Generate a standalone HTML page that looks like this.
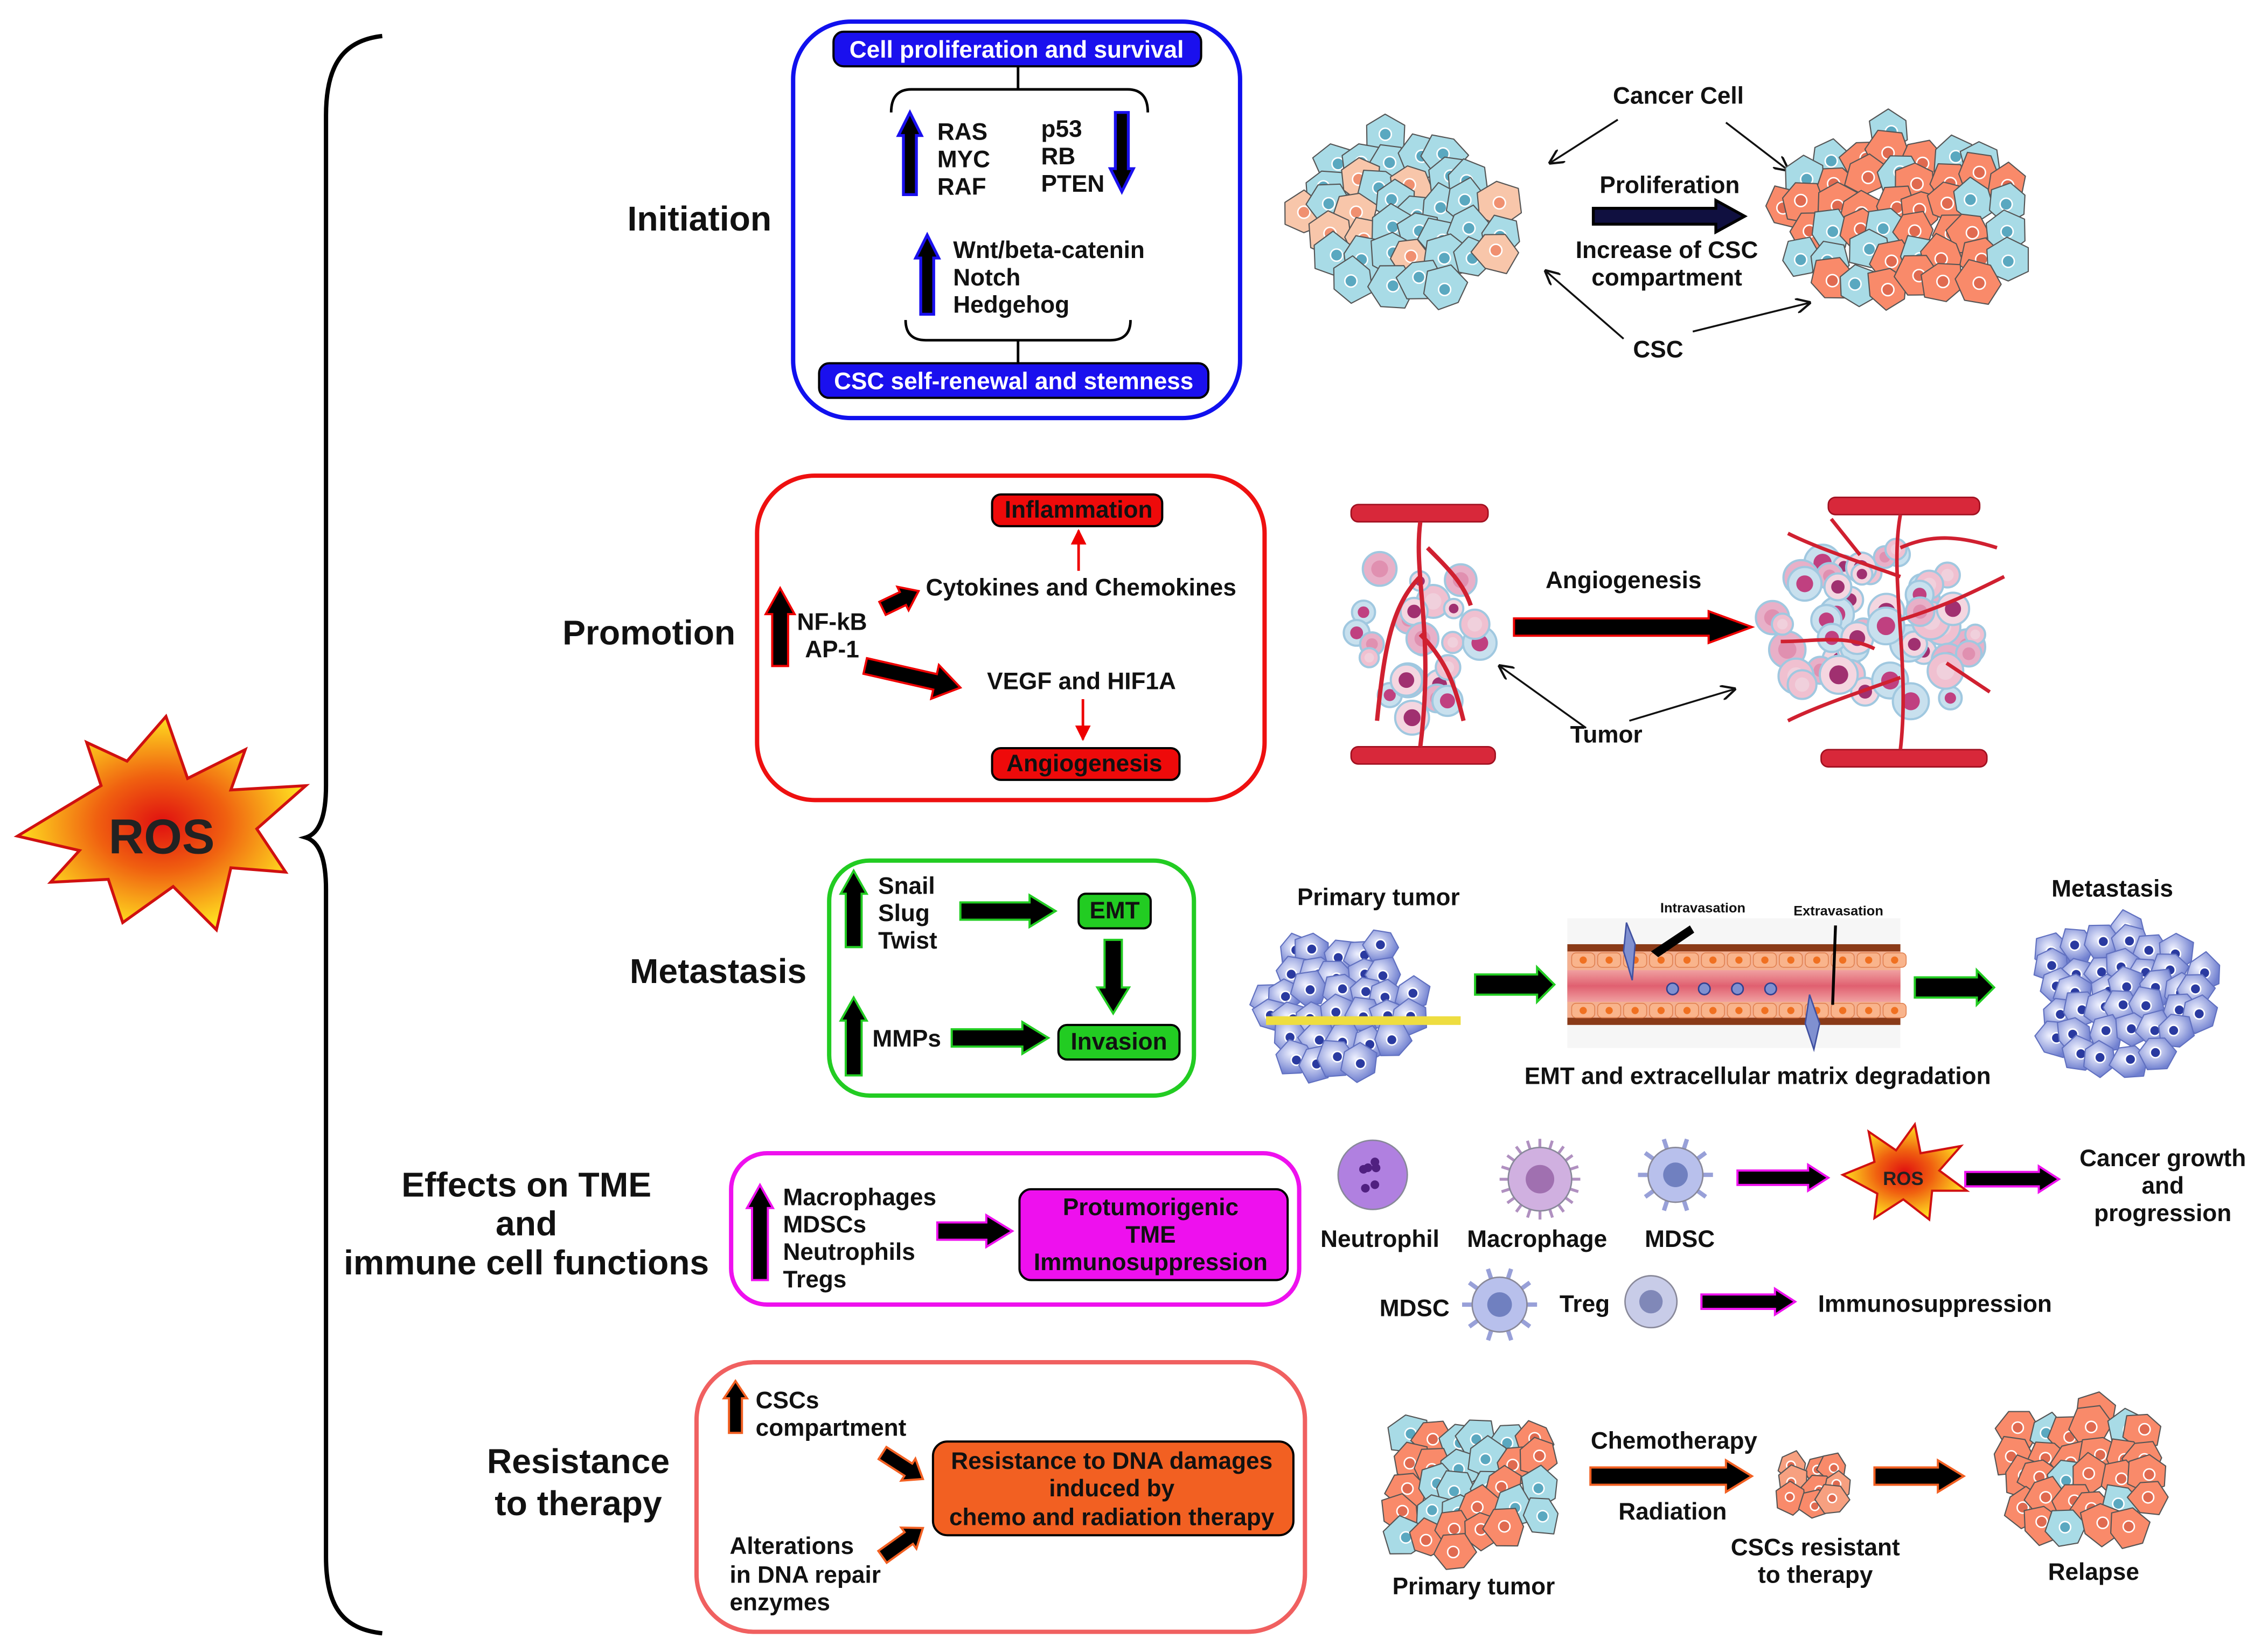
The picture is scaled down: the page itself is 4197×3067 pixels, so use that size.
<!DOCTYPE html>
<html><head><meta charset="utf-8">
<style>
html,body{margin:0;padding:0;background:#fff;}
svg{display:block;}
text{font-family:"Liberation Sans Narrow","Liberation Sans",sans-serif;font-weight:bold;fill:#111;}
.t{font-size:16.5px;}
.lab{font-size:24px;font-family:"Liberation Sans",sans-serif;}
.c{text-anchor:middle;}
.w{fill:#fff;}
</style></head>
<body>
<svg id="s" width="4197" height="3067" viewBox="0 0 1568 1146" xmlns="http://www.w3.org/2000/svg">
<defs>
<radialGradient id="rg" cx="0.5" cy="0.5" r="0.5">
<stop offset="0" stop-color="#e01010"/><stop offset="0.45" stop-color="#f06010"/><stop offset="1" stop-color="#ffe020"/>
</radialGradient>
<radialGradient id="cb" cx="0.4" cy="0.4" r="0.6"><stop offset="0" stop-color="#f0f2ff"/><stop offset="1" stop-color="#7080d0"/></radialGradient>
<linearGradient id="vg" x1="0" y1="0" x2="0" y2="1"><stop offset="0" stop-color="#f0a0a0"/><stop offset="0.5" stop-color="#e06070"/><stop offset="1" stop-color="#f0a0a0"/></linearGradient>
<marker id="mk" viewBox="0 0 10 10" refX="9" refY="5" markerWidth="8" markerHeight="8" orient="auto"><path d="M0,0 L10,5 L0,10" fill="none" stroke="#111" stroke-width="1.5"/></marker>
<marker id="mr" viewBox="0 0 10 10" refX="9" refY="5" markerWidth="6" markerHeight="6" orient="auto"><path d="M0,0 L10,5 L0,10 z" fill="#e00"/></marker>
</defs>

<path d="M265,25 C238,28 226,45 226,80 L226,545 C226,565 222,578 212,581 C222,584 226,597 226,617 L226,1080 C226,1115 238,1130 265,1133" fill="none" stroke="#000" stroke-width="3"/>

<path d="M12,580 L70,545 L60,515 L88,528 L115,497 L130,540 L170,520 L160,548 L212,545 L178,575 L198,605 L160,602 L150,645 L120,615 L85,640 L75,610 L35,612 L55,590 Z" fill="url(#rg)" stroke="#d01010" stroke-width="2"/>
<text x="112" y="592" class="c" style="font-size:34px;font-family:'Liberation Sans',sans-serif;fill:#222">ROS</text>

<text x="485" y="160" class="lab c">Initiation</text>
<text x="450" y="447" class="lab c">Promotion</text>
<text x="498" y="682" class="lab c">Metastasis</text>
<text x="365" y="830" class="lab c">Effects on TME</text>
<text x="365" y="857" class="lab c">and</text>
<text x="365" y="884" class="lab c">immune cell functions</text>
<text x="401" y="1022" class="lab c">Resistance</text>
<text x="401" y="1051" class="lab c">to therapy</text>

<rect x="550" y="15" width="310" height="275" rx="40" fill="none" stroke="#1010ee" stroke-width="3"/>
<rect x="578" y="22" width="255" height="24" rx="7" fill="#1a10ee" stroke="#000" stroke-width="1.5"/>
<text x="705" y="40" class="t c w" style="fill:#fff">Cell proliferation and survival</text>
<rect x="568" y="252" width="270" height="24" rx="7" fill="#1a10ee" stroke="#000" stroke-width="1.5"/>
<text x="703" y="270" class="t c" style="fill:#fff">CSC self-renewal and stemness</text>
<path d="M706,46 L706,62 M618,78 Q618,62 632,62 L782,62 Q796,62 796,78" fill="none" stroke="#000" stroke-width="1.8"/>
<path d="M628,222 Q628,236 642,236 L770,236 Q784,236 784,222 M706,236 L706,252" fill="none" stroke="#000" stroke-width="1.8"/>
<text x="650" y="97" class="t">RAS</text><text x="650" y="116" class="t">MYC</text><text x="650" y="135" class="t">RAF</text>
<text x="722" y="95" class="t">p53</text><text x="722" y="114" class="t">RB</text><text x="722" y="133" class="t">PTEN</text>
<text x="661" y="179" class="t">Wnt/beta-catenin</text><text x="661" y="198" class="t">Notch</text><text x="661" y="217" class="t">Hedgehog</text>

<text x="1164" y="72" class="t c">Cancer Cell</text>
<text x="1158" y="134" class="t c">Proliferation</text>
<text x="1156" y="179" class="t c">Increase of CSC</text>
<text x="1156" y="198" class="t c">compartment</text>
<text x="1150" y="248" class="t c">CSC</text>
<g stroke="#111" stroke-width="1.3" marker-end="url(#mk)">
<line x1="1122" y1="83" x2="1075" y2="113"/><line x1="1197" y1="85" x2="1240" y2="118"/>
<line x1="1126" y1="235" x2="1072" y2="188"/><line x1="1174" y1="230" x2="1255" y2="210"/>
</g>

<rect x="525" y="330" width="352" height="225" rx="40" fill="none" stroke="#ee1010" stroke-width="3"/>
<rect x="688" y="343" width="118" height="22" rx="6" fill="#ee0a0a" stroke="#000" stroke-width="1.5"/>
<text x="748" y="359" class="t c">Inflammation</text>
<rect x="688" y="519" width="130" height="22" rx="6" fill="#ee0a0a" stroke="#000" stroke-width="1.5"/>
<text x="752" y="535" class="t c">Angiogenesis</text>
<line x1="748" y1="396" x2="748" y2="368" stroke="#e00" stroke-width="1.8" marker-end="url(#mr)"/>
<line x1="751" y1="485" x2="751" y2="513" stroke="#e00" stroke-width="1.8" marker-end="url(#mr)"/>
<text x="642" y="413" class="t">Cytokines and Chemokines</text>
<text x="577" y="437" class="t c">NF-kB</text><text x="577" y="456" class="t c">AP-1</text>
<text x="750" y="478" class="t c">VEGF and HIF1A</text>
<text x="1126" y="408" class="t c">Angiogenesis</text>
<text x="1114" y="515" class="t c">Tumor</text>
<g stroke="#111" stroke-width="1.3" marker-end="url(#mk)">
<line x1="1100" y1="505" x2="1040" y2="462"/><line x1="1130" y1="500" x2="1203" y2="478"/>
</g>

<rect x="575" y="597" width="253" height="163" rx="28" fill="none" stroke="#22cc22" stroke-width="3"/>
<rect x="748" y="620" width="50" height="24" rx="5" fill="#22cc22" stroke="#000" stroke-width="1.5"/>
<text x="773" y="637" class="t c">EMT</text>
<rect x="734" y="711" width="84" height="24" rx="6" fill="#22cc22" stroke="#000" stroke-width="1.5"/>
<text x="776" y="728" class="t c">Invasion</text>
<text x="609" y="620" class="t">Snail</text><text x="609" y="639" class="t">Slug</text><text x="609" y="658" class="t">Twist</text>
<text x="605" y="726" class="t">MMPs</text>
<text x="956" y="628" class="t c">Primary tumor</text>
<text x="1465" y="622" class="t c">Metastasis</text>
<text x="1219" y="752" class="t c">EMT and extracellular matrix degradation</text>

<rect x="507" y="800" width="394" height="105" rx="25" fill="none" stroke="#ee10ee" stroke-width="3"/>
<rect x="707" y="825" width="186" height="63" rx="8" fill="#ee10ee" stroke="#000" stroke-width="1.5"/>
<text x="798" y="843" class="t c">Protumorigenic</text><text x="798" y="862" class="t c">TME</text><text x="798" y="881" class="t c">Immunosuppression</text>
<text x="543" y="836" class="t">Macrophages</text><text x="543" y="855" class="t">MDSCs</text><text x="543" y="874" class="t">Neutrophils</text><text x="543" y="893" class="t">Tregs</text>
<text x="957" y="865" class="t c">Neutrophil</text>
<text x="1066" y="865" class="t c">Macrophage</text>
<text x="1165" y="865" class="t c">MDSC</text>
<text x="1500" y="809" class="t c">Cancer growth</text><text x="1500" y="828" class="t c">and</text><text x="1500" y="847" class="t c">progression</text>
<text x="981" y="913" class="t c">MDSC</text>
<text x="1099" y="910" class="t c">Treg</text>
<text x="1342" y="910" class="t c">Immunosuppression</text>

<rect x="483" y="945" width="422" height="187" rx="40" fill="none" stroke="#f06060" stroke-width="3"/>
<rect x="647" y="1000" width="250" height="65" rx="10" fill="#f26022" stroke="#000" stroke-width="1.5"/>
<text x="771" y="1019" class="t c">Resistance to DNA damages</text><text x="771" y="1038" class="t c">induced by</text><text x="771" y="1058" class="t c">chemo and radiation therapy</text>
<text x="524" y="977" class="t">CSCs</text><text x="524" y="996" class="t">compartment</text>
<text x="506" y="1078" class="t">Alterations</text><text x="506" y="1098" class="t">in DNA repair</text><text x="506" y="1117" class="t">enzymes</text>
<text x="1161" y="1005" class="t c">Chemotherapy</text>
<text x="1160" y="1054" class="t c">Radiation</text>
<text x="1259" y="1079" class="t c">CSCs resistant</text><text x="1259" y="1098" class="t c">to therapy</text>
<text x="1022" y="1106" class="t c">Primary tumor</text>
<text x="1452" y="1096" class="t c">Relapse</text>

<rect x="1087" y="637" width="231" height="90" fill="#f6f6f6"/>
<rect x="1087" y="655" width="231" height="56" fill="#8a3a18"/>
<rect x="1087" y="660" width="231" height="46" fill="#f4b090"/>
<rect x="1087" y="673" width="231" height="22" fill="url(#vg)"/>
<text x="1181" y="633" style="font-size:9.5px" class="c">Intravasation</text>
<text x="1275" y="635" style="font-size:9.5px" class="c">Extravasation</text>

<g id="dyn"></g>
</svg>
<script>
(function(){
var NS="http://www.w3.org/2000/svg",G=document.getElementById('dyn');
function el(n,a){var e=document.createElementNS(NS,n);for(var k in a)e.setAttribute(k,a[k]);G.appendChild(e);return e;}
var seed=7;function R(){seed=(seed*16807)%2147483647;return seed/2147483647;}
function arrow(x1,y1,x2,y2,w,fill,stroke,hl,hw,sw){
 var dx=x2-x1,dy=y2-y1,L=Math.sqrt(dx*dx+dy*dy),ux=dx/L,uy=dy/L,px=-uy,py=ux;
 hl=hl||w*1.6;hw=hw||w*1.1;var h=w/2;
 var pts=[[0,-h],[L-hl,-h],[L-hl,-hw],[L,0],[L-hl,hw],[L-hl,h],[0,h]];
 var s=pts.map(function(p){return (x1+ux*p[0]+px*p[1]).toFixed(1)+","+(y1+uy*p[0]+py*p[1]).toFixed(1);}).join(" ");
 el('polygon',{points:s,fill:fill,stroke:stroke,'stroke-width':sw||1.5,'stroke-linejoin':'miter'});
}
arrow(631,135,631,78,9,'#000','#1a10ee',16,8,2);
arrow(778,78,778,133,9,'#000','#1a10ee',16,8,2);
arrow(643,218,643,163,9,'#000','#1a10ee',16,8,2);
arrow(1105,150,1210,150,11,'#101040','#000',20,11,2);
arrow(541,462,541,408,11,'#000','#e00',18,10,1.5);
arrow(612,422,637,410,10,'#000','#e00',12,9,1.5);
arrow(600,462,666,477,11,'#000','#e00',18,12,1.5);
arrow(1050,435,1215,435,12,'#000','#e00',30,11,1.5);
arrow(592,657,592,604,11,'#000','#2c2',16,9,1.5);
arrow(592,746,592,692,11,'#000','#2c2',16,9,1.5);
arrow(666,632,732,632,12,'#000','#2c2',18,11,1.5);
arrow(772,652,772,703,12,'#000','#2c2',18,11,1.5);
arrow(660,720,727,720,12,'#000','#2c2',18,11,1.5);
arrow(1023,683,1078,683,14,'#000','#2c2',12,12,1.5);
arrow(1328,685,1383,685,14,'#000','#2c2',12,12,1.5);
arrow(527,888,527,822,11,'#000','#e1e',16,9,1.5);
arrow(650,854,702,854,12,'#000','#e1e',18,11,1.5);
arrow(1205,817,1268,817,10,'#000','#e1e',14,9,1.5);
arrow(1363,818,1428,818,10,'#000','#e1e',14,9,1.5);
arrow(1180,903,1245,903,10,'#000','#e1e',14,9,1.5);
arrow(510,994,510,958,9,'#000','#f26022',12,8,1.5);
arrow(612,1008,640,1026,10,'#000','#f26022',12,9,1.5);
arrow(612,1080,640,1060,10,'#000','#f26022',12,9,1.5);
arrow(1103,1024,1215,1024,12,'#000','#f26022',18,11,1.5);
arrow(1300,1024,1362,1024,12,'#000','#f26022',18,11,1.5);

function cluster(cx,cy,rx,ry,r,cols,ncol,stroke){
 for(var y=cy-ry;y<=cy+ry;y+=r*1.25){for(var x=cx-rx;x<=cx+rx;x+=r*1.4){
  var xx=x+(R()-0.5)*r*0.7,yy=y+(R()-0.5)*r*0.7;
  var d=((xx-cx)/rx)*((xx-cx)/rx)+((yy-cy)/ry)*((yy-cy)/ry);if(d>1)continue;
  var n=6,pts=[],rot=R()*6.28;for(var i=0;i<n;i++){var a=rot+i*6.283/n,rr=r*(0.9+R()*0.35);pts.push((xx+Math.cos(a)*rr).toFixed(1)+","+(yy+Math.sin(a)*rr).toFixed(1));}
  var ci=Math.floor(R()*cols.length);
  el('polygon',{points:pts.join(" "),fill:cols[ci],stroke:stroke||'#555','stroke-width':0.8,'stroke-linejoin':'round'});
  el('circle',{cx:xx+(R()-0.5)*3,cy:yy+(R()-0.5)*3,r:r*0.3,fill:ncol[ci],stroke:'#fff','stroke-width':1});
 }}
}
var BL='#a8dbe6',SA2='#f98a6a';
cluster(975,150,72,58,14,[BL,BL,BL,'#f8c6aa'],['#5aa8c0','#5aa8c0','#5aa8c0','#f09070']);
cluster(1322,150,88,60,14,[SA2,SA2,BL,SA2],['#e06a50','#e06a50','#5aa8c0','#e06a50']);
cluster(1018,1032,62,50,13,[SA2,BL,SA2,BL],['#e06a50','#5aa8c0','#e06a50','#5aa8c0']);
cluster(1256,1025,26,20,10,[SA2,'#f7a080'],['#e06a50','#e06a50']);
cluster(1443,1022,62,45,13,[SA2,BL,SA2],['#e06a50','#5aa8c0','#e06a50']);
cluster(930,695,52,50,12,['url(#cb)'],['#2a3aa0'],'#6070c0');
cluster(1470,690,62,48,12,['url(#cb)'],['#2a3aa0'],'#6070c0');
el('rect',{x:878,y:705,width:135,height:6,fill:'#eedd40'});

function vessel(x,y,w){el('rect',{x:x,y:y,width:w,height:12,rx:5,fill:'#d8283a',stroke:'#a01020','stroke-width':1});}
function blob(cx,cy,rx,ry,n,rr){for(var i=0;i<n;i++){var a=R()*6.28,d=Math.sqrt(R());var x=cx+Math.cos(a)*d*rx,y=cy+Math.sin(a)*d*ry,r=rr*(0.6+R()*0.6);
 el('circle',{cx:x,cy:y,r:r,fill:['#f4d6e0','#e8b0c8','#c8e0ee','#f0c0d0'][i%4],stroke:'#a0c8e0','stroke-width':1.5});
 el('circle',{cx:x,cy:y,r:r*0.5,fill:['#a03070','#e090b0','#c04080','#f0d0dc'][i%4]});}}
vessel(937,350,95);vessel(937,518,100);
blob(985,440,45,60,26,10);
el('path',{d:'M985,362 C980,400 995,440 985,518 M985,400 C965,420 960,450 955,500 M985,440 C1005,460 1010,480 1015,500 M990,380 C1005,395 1015,405 1020,420',fill:'none',stroke:'#d02030','stroke-width':3});
vessel(1268,345,105);vessel(1263,520,115);
blob(1305,440,80,62,55,11);
el('path',{d:'M1318,357 C1310,400 1325,460 1318,520 M1318,400 C1290,390 1260,380 1240,370 M1318,430 C1350,420 1370,410 1390,400 M1318,470 C1290,480 1260,490 1240,500 M1318,380 C1340,370 1360,372 1385,380 M1300,450 C1280,440 1260,445 1235,445 M1290,385 L1270,360 M1350,460 L1380,480',fill:'none',stroke:'#d02030','stroke-width':2.5});

for(var x=1090;x<1316;x+=18){el('rect',{x:x,y:661,width:16,height:10,rx:3,fill:'#f9b48c',stroke:'#e08050','stroke-width':0.6});el('circle',{cx:x+8,cy:666,r:2.5,fill:'#f07020'});
 el('rect',{x:x,y:696,width:16,height:10,rx:3,fill:'#f9b48c',stroke:'#e08050','stroke-width':0.6});el('circle',{cx:x+8,cy:701,r:2.5,fill:'#f07020'});}
el('path',{d:'M1128,640 L1134,655 L1132,680 L1126,660 Z',fill:'#8090d0',stroke:'#4050a0'});
el('path',{d:'M1255,690 L1262,710 L1258,728 L1252,710 Z',fill:'#8090d0',stroke:'#4050a0'});
[1160,1182,1205,1228].forEach(function(x){el('circle',{cx:x,cy:686,r:4,fill:'#8090d0',stroke:'#304090'});});
el('polygon',{points:'1145,660 1172,642 1175,647 1150,664',fill:'#000'});
el('line',{x1:1273,y1:642,x2:1271,y2:697,stroke:'#000','stroke-width':2});

function cell(cx,cy,r,f,n){el('circle',{cx:cx,cy:cy,r:r,fill:f,stroke:'#889','stroke-width':1});if(n)el('circle',{cx:cx,cy:cy,r:r*0.45,fill:n});}
cell(952,815,24,'#b080e0');for(var i=0;i<6;i++)el('circle',{cx:945+R()*16,cy:805+R()*20,r:3,fill:'#502080'});
for(var i=0;i<20;i++){var a=i*0.314;el('line',{x1:1068+Math.cos(a)*20,y1:818+Math.sin(a)*20,x2:1068+Math.cos(a)*28,y2:818+Math.sin(a)*28,stroke:'#b090c0','stroke-width':2});}
cell(1068,818,22,'#d0b0e0','#a070b0');
for(var i=0;i<10;i++){var a=i*0.628;el('line',{x1:1162+Math.cos(a)*16,y1:815+Math.sin(a)*16,x2:1162+Math.cos(a)*26,y2:815+Math.sin(a)*26,stroke:'#98a0d8','stroke-width':3});}
cell(1162,815,19,'#b8c0ec','#7080c0');
for(var i=0;i<10;i++){var a=i*0.628;el('line',{x1:1040+Math.cos(a)*16,y1:905+Math.sin(a)*16,x2:1040+Math.cos(a)*26,y2:905+Math.sin(a)*26,stroke:'#98a0d8','stroke-width':3});}
cell(1040,905,19,'#b8c0ec','#7080c0');
cell(1145,903,18,'#c8cce8','#8088b8');
el('path',{d:'M1278,815 L1300,806 L1296,785 L1315,798 L1328,780 L1332,800 L1360,795 L1345,812 L1364,826 L1340,826 L1338,846 L1320,832 L1300,845 L1302,828 Z',fill:'url(#rg)',stroke:'#d01010','stroke-width':1.5});
var t=document.createElementNS(NS,'text');t.setAttribute('x',1320);t.setAttribute('y',822);t.setAttribute('class','c');t.setAttribute('style','font-size:13px;fill:#222');t.textContent='ROS';G.appendChild(t);
})();
</script>
</body></html>
